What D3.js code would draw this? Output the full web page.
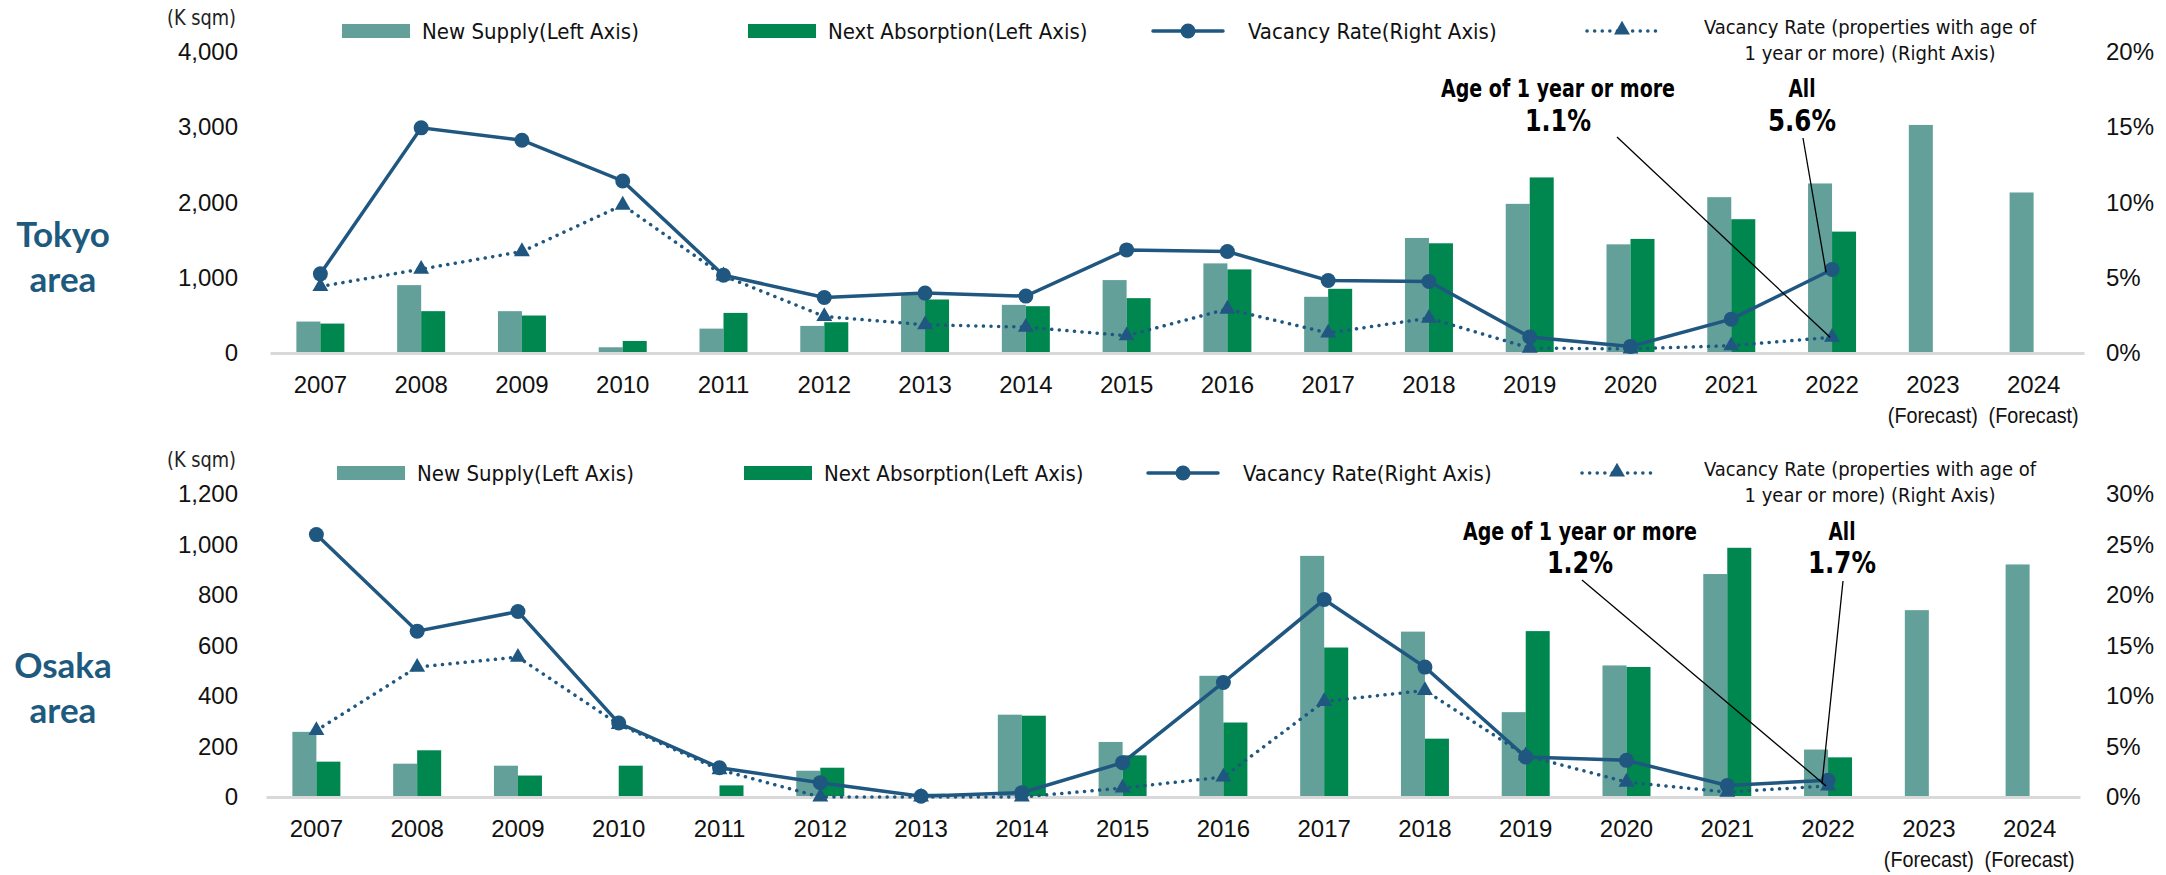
<!DOCTYPE html>
<html>
<head>
<meta charset="utf-8">
<script src="https://cdn.jsdelivr.net/npm/d3@7"></script>
<style>
  body { margin: 0; background: #fff; }
  svg { display: block; font-family: "Liberation Sans Narrow", "DejaVu Sans Condensed", "Roboto", sans-serif; }
</style>
</head>
<body>
<div id="chart"></div>
<script>
// Categories
const years = ['2007', '2008', '2009', '2010', '2011', '2012', '2013', '2014', '2015',
    '2016', '2017', '2018', '2019', '2020', '2021', '2022', '2023', '2024'];
const forecastYears = ['2023', '2024'];

// Tokyo area (K sqm, %)
const tokyoSupply = [418, 902, 556, 76, 324, 360, 773, 640, 969, 1191, 747, 1529, 1982, 1444, 2071, 2253, 3031, 2133];
const tokyoAbsorption = [391, 556, 498, 160, 533, 409, 711, 622, 729, 1111, 853, 1458, 2333, 1516, 1778, 1613, null, null];
const tokyoVacancy = [5.26, 14.96, 14.14, 11.43, 5.17, 3.69, 3.98, 3.78, 6.85, 6.74, 4.82, 4.75, 1.06, 0.44, 2.25, 5.55];
const tokyoVacancyAged = [4.42, 5.57, 6.74, 9.83, 5.13, 2.43, 1.88, 1.72, 1.15, 2.92, 1.33, 2.32, 0.33, 0.27, 0.49, 1.05];
const tokyoLeftTicks = [0, 1000, 2000, 3000, 4000];
const tokyoRightTicks = [0, 5, 10, 15, 20];

// Osaka area (K sqm, %)
const osakaSupply = [258, 132, 124, 0, 0, 104, 0, 326, 218, 480, 955, 655, 336, 521, 883, 188, 740, 921];
const osakaAbsorption = [140, 185, 85, 124, 46, 116, 13, 322, 165, 295, 592, 231, 657, 515, 987, 157, null, null];
const osakaVacancy = [25.98, 16.42, 18.36, 7.32, 2.9, 1.42, 0.07, 0.43, 3.4, 11.34, 19.55, 12.86, 3.96, 3.63, 1.15, 1.65];
const osakaVacancyAged = [6.59, 12.86, 13.85, 7.19, 2.7, 0, 0, 0, 0.89, 1.98, 9.46, 10.55, 4.1, 1.48, 0.49, 1.1];
const osakaLeftTicks = [0, 200, 400, 600, 800, 1000, 1200];
const osakaRightTicks = [0, 5, 10, 15, 20, 25, 30];

// Legend and annotation text
const legendLabels = ['New Supply(Left Axis)', 'Next Absorption(Left Axis)', 'Vacancy Rate(Right Axis)'];
const legendAgedLines = ['Vacancy Rate (properties with age of', '1 year or more) (Right Axis)'];
const tokyoNotes = ['1.1%', '5.6%'];
const osakaNotes = ['1.2%', '1.7%'];

const width = 2166;
const height = 875;

const colSupply = '#63a09a';
const colAbsorb = '#00874f';
const colLine = '#1f5780';

const svg = d3.select('#chart')
    .append('svg')
    .attr('width', width)
    .attr('height', height);

const fmt = d3.format(',');

function drawPanel(p) {
    const g = svg.append('g');

    const x = d3.scaleBand()
        .domain(years)
        .range([p.left, p.right]);
    const xSub = d3.scaleBand()
        .domain(['supply', 'absorption'])
        .range([x.bandwidth() / 2 - 24, x.bandwidth() / 2 + 24]);

    const y = d3.scaleLinear()
        .domain([0, p.leftTicks[p.leftTicks.length - 1]])
        .range([p.base, p.top]);
    const yR = d3.scaleLinear()
        .domain([0, p.rightTicks[p.rightTicks.length - 1]])
        .range([p.base, p.top]);

    // Title
    g.append('text')
        .attr('x', 63)
        .attr('y', p.titleY)
        .attr('text-anchor', 'middle')
        .attr('font-family', 'Lato, "Noto Sans", sans-serif')
        .attr('font-weight', 'bold')
        .attr('font-size', 35)
        .attr('fill', '#1d5a7e')
        .selectAll('tspan')
        .data(p.title)
        .enter()
        .append('tspan')
        .attr('x', 63)
        .attr('dy', (d, i) => i === 0 ? 0 : 45)
        .text(d => d);

    // Unit label
    g.append('text')
        .attr('x', 167)
        .attr('y', p.top - 27)
        .attr('font-size', 21)
        .attr('textLength', 69)
        .attr('lengthAdjust', 'spacingAndGlyphs')
        .attr('fill', '#222')
        .text('(K sqm)');

    // Left axis
    const yAxis = d3.axisLeft(y).tickValues(p.leftTicks).tickFormat(fmt).tickSize(0).tickPadding(0);
    const ya = g.append('g')
        .attr('transform', `translate(238,0)`)
        .call(yAxis);
    ya.select('.domain').remove();
    ya.selectAll('text').attr('font-size', 24).attr('fill', '#111').attr('font-family', null);

    // Right axis
    const yAxisR = d3.axisRight(yR).tickValues(p.rightTicks).tickFormat(d => d + '%').tickSize(0).tickPadding(0);
    const yra = g.append('g')
        .attr('transform', `translate(2106,0)`)
        .call(yAxisR);
    yra.select('.domain').remove();
    yra.selectAll('text').attr('font-size', 24).attr('fill', '#111').attr('font-family', null);

    // Bars
    const groups = g.selectAll('.year')
        .data(years)
        .enter()
        .append('g')
        .attr('transform', d => `translate(${x(d)},0)`);

    groups.append('rect')
        .attr('x', xSub('supply'))
        .attr('width', xSub.bandwidth())
        .attr('y', (d, i) => y(p.supply[i]))
        .attr('height', (d, i) => y(0) - y(p.supply[i]))
        .attr('fill', colSupply);

    groups.filter((d, i) => p.absorption[i] != null)
        .append('rect')
        .attr('x', xSub('absorption'))
        .attr('width', xSub.bandwidth())
        .attr('y', d => y(p.absorption[years.indexOf(d)]))
        .attr('height', d => y(0) - y(p.absorption[years.indexOf(d)]))
        .attr('fill', colAbsorb);

    // X axis
    const xAxis = d3.axisBottom(x).tickSize(0).tickPadding(0);
    const xa = g.append('g')
        .attr('transform', `translate(0,${p.base})`)
        .call(xAxis);
    xa.select('.domain').attr('stroke', '#d9d9d9').attr('stroke-width', 3);
    xa.selectAll('text')
        .attr('font-size', 24)
        .attr('fill', '#111')
        .attr('font-family', null)
        .attr('dy', 40);
    xa.selectAll('.tick')
        .filter(d => forecastYears.includes(d))
        .append('text')
        .attr('fill', '#111')
        .attr('font-size', 22)
        .attr('textLength', 90)
        .attr('lengthAdjust', 'spacingAndGlyphs')
        .attr('dy', 70)
        .text('(Forecast)');

    const cx = i => x(years[i]) + x.bandwidth() / 2;

    // Aged vacancy (dotted)
    const line = d3.line()
        .x((d, i) => cx(i))
        .y(d => yR(d));
    g.append('path')
        .datum(p.vacancyAged)
        .attr('d', line)
        .attr('fill', 'none')
        .attr('stroke', colLine)
        .attr('stroke-width', 3.5)
        .attr('stroke-linecap', 'round')
        .attr('stroke-dasharray', '0.1 7.5');

    const tri = d3.symbol().type(d3.symbolTriangle).size(110);
    g.selectAll('.tri')
        .data(p.vacancyAged)
        .enter()
        .append('path')
        .attr('d', tri)
        .attr('transform', (d, i) => `translate(${cx(i)},${yR(d)})`)
        .attr('fill', colLine);

    // Vacancy rate (solid)
    g.append('path')
        .datum(p.vacancy)
        .attr('d', line)
        .attr('fill', 'none')
        .attr('stroke', colLine)
        .attr('stroke-width', 3.5);

    g.selectAll('.dot')
        .data(p.vacancy)
        .enter()
        .append('circle')
        .attr('cx', (d, i) => cx(i))
        .attr('cy', d => yR(d))
        .attr('r', 7.5)
        .attr('fill', colLine);

    // Legend
    const ly = p.legendY;
    g.append('rect').attr('x', p.lx[0]).attr('y', ly - 7).attr('width', 68).attr('height', 14).attr('fill', colSupply);
    g.append('rect').attr('x', p.lx[1]).attr('y', ly - 7).attr('width', 68).attr('height', 14).attr('fill', colAbsorb);
    g.append('line').attr('x1', p.lx[2]).attr('x2', p.lx[2] + 70).attr('y1', ly).attr('y2', ly)
        .attr('stroke', colLine).attr('stroke-width', 3.5).attr('stroke-linecap', 'round');
    g.append('circle').attr('cx', p.lx[2] + 35).attr('cy', ly).attr('r', 7.5).attr('fill', colLine);
    g.append('line').attr('x1', p.lx[3]).attr('x2', p.lx[3] + 70).attr('y1', ly).attr('y2', ly)
        .attr('stroke', colLine).attr('stroke-width', 3.5).attr('stroke-linecap', 'round')
        .attr('stroke-dasharray', '0.1 7.5');
    g.append('path').attr('d', tri).attr('transform', `translate(${p.lx[3] + 35},${ly - 1})`).attr('fill', colLine);

    g.selectAll('.leg')
        .data(legendLabels)
        .enter()
        .append('text')
        .attr('x', (d, i) => p.lx[i] + [80, 80, 95][i])
        .attr('y', ly + 8)
        .attr('font-size', 22)
        .attr('fill', '#111')
        .text(d => d);

    g.selectAll('.leg2')
        .data(legendAgedLines)
        .enter()
        .append('text')
        .attr('x', 1870)
        .attr('y', (d, i) => ly + 3 + i * 26)
        .attr('text-anchor', 'middle')
        .attr('font-size', 20)
        .attr('fill', '#111')
        .text(d => d);

    // Annotations
    const i22 = years.indexOf('2022');
    const n = p.notes;
    g.append('line')
        .attr('x1', n.ageLine[0]).attr('y1', n.ageLine[1])
        .attr('x2', cx(i22) - 2).attr('y2', yR(p.vacancyAged[i22]))
        .attr('stroke', '#000').attr('stroke-width', 1.3);
    g.append('line')
        .attr('x1', n.allLine[0]).attr('y1', n.allLine[1])
        .attr('x2', cx(i22) - 6).attr('y2', yR(p.vacancy[i22]) + 3)
        .attr('stroke', '#000').attr('stroke-width', 1.3);

    const note = (xPos, yPos, txt, size, len) => g.append('text')
        .attr('x', xPos - len / 2).attr('y', yPos)
        .attr('font-weight', 'bold')
        .attr('font-size', size)
        .attr('textLength', len)
        .attr('lengthAdjust', 'spacingAndGlyphs')
        .attr('fill', '#000')
        .text(txt);
    note(n.ageX, n.y1, 'Age of 1 year or more', 24, 234);
    note(n.ageX, n.y2, p.noteLabels[0], 31, 66);
    note(n.allX, n.y1, 'All', 24, 27);
    note(n.allX, n.y2, p.noteLabels[1], 31, 68);
}

drawPanel({
    title: ['Tokyo', 'area'],
    titleY: 247,
    left: 270, right: 2084,
    top: 52, base: 353,
    leftTicks: tokyoLeftTicks, rightTicks: tokyoRightTicks,
    supply: tokyoSupply, absorption: tokyoAbsorption,
    vacancy: tokyoVacancy, vacancyAged: tokyoVacancyAged,
    legendY: 31,
    lx: [342, 748, 1153, 1587],
    noteLabels: tokyoNotes,
    notes: { ageX: 1558, allX: 1802, y1: 97, y2: 131, ageLine: [1617, 137], allLine: [1803, 138] }
});

drawPanel({
    title: ['Osaka', 'area'],
    titleY: 678,
    left: 266, right: 2080,
    top: 494, base: 797,
    leftTicks: osakaLeftTicks, rightTicks: osakaRightTicks,
    supply: osakaSupply, absorption: osakaAbsorption,
    vacancy: osakaVacancy, vacancyAged: osakaVacancyAged,
    legendY: 473,
    lx: [337, 744, 1148, 1582],
    noteLabels: osakaNotes,
    notes: { ageX: 1580, allX: 1842, y1: 540, y2: 573, ageLine: [1582, 580], allLine: [1843, 581] }
});
</script>
</body>
</html>
